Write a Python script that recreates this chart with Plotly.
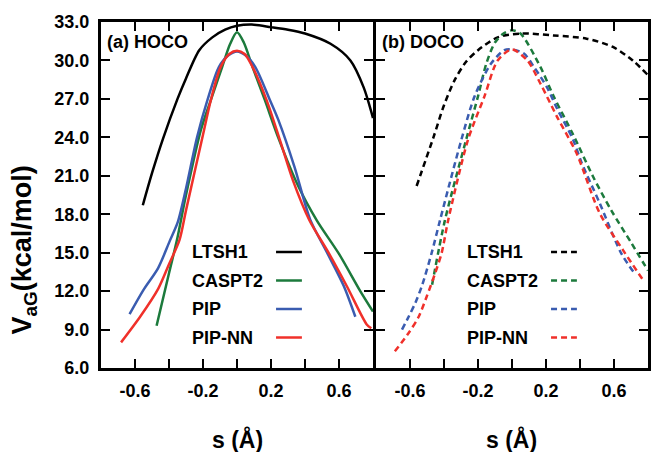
import plotly.graph_objects as go

# ---------------- data ----------------
# (a) HOCO  - solid lines
hoco_ltsh1_s = [-0.554, -0.5, -0.435, -0.35, -0.3, -0.222, -0.145, -0.07, 0.0, 0.087, 0.2, 0.3, 0.4, 0.55, 0.667, 0.745, 0.8]
hoco_ltsh1_v = [18.7, 21.2, 23.9, 27.0, 28.6, 30.8, 31.8, 32.4, 32.7, 32.8, 32.6, 32.4, 32.1, 31.3, 30.0, 27.9, 25.5]

hoco_caspt2_s = [-0.473, -0.4, -0.353, -0.3, -0.212, -0.154, -0.087, -0.04, 0.0, 0.04, 0.091, 0.164, 0.242, 0.36, 0.47, 0.6, 0.725, 0.8]
hoco_caspt2_v = [9.3, 13.4, 16.0, 19.5, 24.6, 26.9, 29.5, 31.3, 32.2, 31.4, 29.5, 26.9, 24.0, 20.2, 17.5, 14.9, 12.0, 10.4]

hoco_pip_s = [-0.632, -0.55, -0.464, -0.396, -0.348, -0.3, -0.235, -0.174, -0.106, -0.05, 0.0, 0.05, 0.107, 0.194, 0.242, 0.338, 0.43, 0.53, 0.628, 0.696]
hoco_pip_v = [10.2, 12.1, 13.8, 15.9, 17.4, 20.0, 24.0, 26.9, 29.5, 30.4, 30.7, 30.4, 29.5, 26.9, 25.4, 21.7, 17.6, 15.0, 12.4, 10.0]

hoco_pipnn_s = [-0.682, -0.57, -0.463, -0.4, -0.338, -0.3, -0.2, -0.154, -0.096, -0.045, 0.0, 0.045, 0.091, 0.174, 0.252, 0.33, 0.425, 0.54, 0.647, 0.763, 0.79]
hoco_pipnn_v = [8.0, 10.0, 12.2, 14.1, 16.0, 18.3, 24.2, 26.9, 29.5, 30.5, 30.75, 30.5, 29.5, 26.9, 23.8, 20.6, 17.55, 14.96, 12.36, 9.4, 9.1]

# (b) DOCO  - dashed lines
doco_ltsh1_s = [-0.561, -0.462, -0.4, -0.336, -0.27, -0.2, -0.084, 0.051, 0.245, 0.439, 0.594, 0.71, 0.8]
doco_ltsh1_v = [20.2, 24.0, 26.5, 28.5, 29.9, 30.8, 31.8, 32.1, 31.95, 31.7, 31.05, 30.0, 28.85]

doco_caspt2_s = [-0.47, -0.395, -0.27, -0.2, -0.15, -0.1, -0.05, 0.0, 0.05, 0.167, 0.245, 0.36, 0.478, 0.584, 0.7, 0.8]
doco_caspt2_v = [12.5, 17.5, 23.8, 27.2, 29.8, 31.4, 32.1, 32.35, 32.1, 29.5, 27.2, 24.2, 20.9, 18.3, 15.8, 13.6]

doco_pip_s = [-0.647, -0.608, -0.568, -0.53, -0.472, -0.423, -0.298, -0.22, -0.123, -0.045, 0.0, 0.07, 0.129, 0.206, 0.265, 0.36, 0.41, 0.516, 0.642, 0.72]
doco_pip_v = [9.0, 10.0, 11.1, 12.4, 15.0, 17.55, 23.8, 27.2, 29.76, 30.8, 30.85, 30.54, 29.5, 27.9, 26.25, 23.8, 22.0, 18.86, 14.96, 13.4]

doco_pipnn_s = [-0.689, -0.608, -0.549, -0.501, -0.452, -0.414, -0.375, -0.259, -0.162, -0.084, 0.0, 0.09, 0.167, 0.265, 0.38, 0.516, 0.652, 0.769]
doco_pipnn_v = [7.3, 8.73, 10.0, 11.6, 13.4, 14.96, 17.55, 23.8, 27.2, 30.0, 30.85, 30.0, 28.2, 25.6, 22.75, 18.08, 15.22, 12.9]

series_names = ["LTSH1", "CASPT2", "PIP", "PIP-NN"]
panel_labels = ["(a) HOCO", "(b) DOCO"]
x_tickvals = [-0.6, -0.2, 0.2, 0.6]
x_ticktext = ["-0.6", "-0.2", "0.2", "0.6"]
y_tickvals = [6, 9, 12, 15, 18, 21, 24, 27, 30, 33]
y_ticktext = ["6.0", "9.0", "12.0", "15.0", "18.0", "21.0", "24.0", "27.0", "30.0", "33.0"]

# ---------------- styling ----------------
colors = ["#000000", "#1c7a3c", "#3a5cb0", "#f0302a"]
FONT = "Liberation Sans, Arial, Helvetica, sans-serif"
DASH = "6px,4px"
LW = 2.5

fig = go.Figure()

hoco = [(hoco_ltsh1_s, hoco_ltsh1_v), (hoco_caspt2_s, hoco_caspt2_v),
        (hoco_pip_s, hoco_pip_v), (hoco_pipnn_s, hoco_pipnn_v)]
doco = [(doco_ltsh1_s, doco_ltsh1_v), (doco_caspt2_s, doco_caspt2_v),
        (doco_pip_s, doco_pip_v), (doco_pipnn_s, doco_pipnn_v)]

for i, (s, v) in enumerate(hoco):
    fig.add_trace(go.Scatter(x=s, y=v, mode="lines", name=series_names[i],
                             line=dict(color=colors[i], width=LW, shape="spline", smoothing=0.8),
                             xaxis="x", yaxis="y", showlegend=False, cliponaxis=True))
for i, (s, v) in enumerate(doco):
    fig.add_trace(go.Scatter(x=s, y=v, mode="lines", name=series_names[i],
                             line=dict(color=colors[i], width=LW, dash=DASH, shape="spline", smoothing=0.8),
                             xaxis="x2", yaxis="y2", showlegend=False, cliponaxis=True))

axis_common = dict(showgrid=False, zeroline=False, showline=True, linecolor="black", linewidth=3,
                   mirror="ticks", ticks="inside", ticklen=9, tickwidth=2.2, tickcolor="black",
                   tickfont=dict(family=FONT, size=18, color="black", weight="bold"))
x_minor = dict(ticks="inside", ticklen=9, tickwidth=2.2, tickcolor="black", tick0=0, dtick=0.2, showgrid=False)

PLOT_W = 550.0
GAP = 3.0
fig.update_layout(
    width=652, height=452,
    margin=dict(l=101, r=1, t=22, b=84),
    paper_bgcolor="white", plot_bgcolor="white",
    showlegend=False,
    xaxis=dict(domain=[0, (PLOT_W / 2 - GAP / 2) / PLOT_W], range=[-0.8, 0.8], anchor="y", tickmode="array",
               tickvals=x_tickvals, ticktext=x_ticktext, ticklabelstandoff=4, minor=x_minor, **axis_common),
    xaxis2=dict(domain=[(PLOT_W / 2 + GAP / 2) / PLOT_W, 1], range=[-0.8, 0.8], anchor="y2", tickmode="array",
                tickvals=x_tickvals, ticktext=x_ticktext, ticklabelstandoff=4, minor=x_minor, **axis_common),
    yaxis=dict(domain=[0, 1], range=[6, 33], anchor="x", tickmode="array",
               tickvals=y_tickvals, ticktext=y_ticktext, ticklabelstandoff=5, **axis_common),
    yaxis2=dict(domain=[0, 1], range=[6, 33], anchor="x2", tickmode="array",
                tickvals=y_tickvals, ticktext=y_ticktext, showticklabels=False, **axis_common),
)

annotations = []
shapes = []
PLOT_T, PLOT_H = 22, 346
PANEL_W = PLOT_W / 2 - GAP / 2


def ydom(py):
    return 1 - (py - PLOT_T) / PLOT_H


legend_rows = [252, 280.5, 309, 337.5]
for p, (xa, ya) in enumerate([("x", "y"), ("x2", "y2")]):
    annotations.append(dict(text=panel_labels[p], xref=f"{xa} domain", yref=f"{ya} domain",
                            x=4 / PANEL_W, y=ydom(41.7), xanchor="left", yanchor="middle",
                            showarrow=False, font=dict(family=FONT, size=18, color="black", weight="bold")))
    for i, name in enumerate(series_names):
        annotations.append(dict(text=name, xref=f"{xa} domain", yref=f"{ya} domain",
                                x=89 / PANEL_W, y=ydom(legend_rows[i]), xanchor="left", yanchor="middle",
                                showarrow=False, font=dict(family=FONT, size=18, color="black", weight="bold")))
        shapes.append(dict(type="line", xref=f"{xa} domain", yref=f"{ya} domain",
                           x0=176 / PANEL_W, x1=202 / PANEL_W, y0=ydom(legend_rows[i]), y1=ydom(legend_rows[i]),
                           line=dict(color=colors[i], width=LW, dash="solid" if p == 0 else DASH)))
    annotations.append(dict(text="s (Å)", xref=xa, yref=f"{ya} domain", x=0.0, y=ydom(439),
                            xanchor="center", yanchor="middle", showarrow=False,
                            font=dict(family=FONT, size=23, color="black", weight="bold")))

annotations.append(dict(text="V<sub>aG</sub>(kcal/mol)", xref="paper", yref="paper",
                        x=(24 - 101) / PLOT_W, y=ydom(250), xanchor="center", yanchor="middle",
                        textangle=-90, showarrow=False,
                        font=dict(family=FONT, size=27, color="black", weight="bold")))

fig.update_layout(annotations=annotations, shapes=shapes)
fig.write_html("out.html")
